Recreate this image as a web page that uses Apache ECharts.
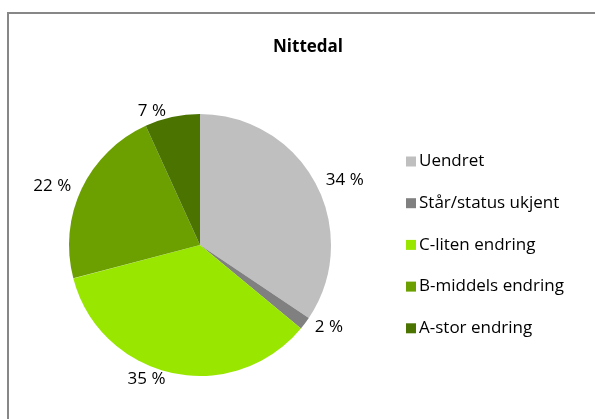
<!DOCTYPE html>
<html>
<head>
<meta charset="utf-8">
<script src="https://cdn.jsdelivr.net/npm/echarts@6/dist/echarts.min.js"></script>
<style>
html,body{margin:0;padding:0;background:#fff;overflow:hidden;}
#frame{position:absolute;left:7px;top:12px;width:620px;height:440px;border:2px solid #878787;box-sizing:border-box;}
#chart{position:absolute;left:0;top:0;width:595px;height:419px;}
</style>
</head>
<body>
<div id="frame"></div>
<div id="chart"></div>
<script>
const title = "Nittedal";
const categories = ["Uendret", "Står/status ukjent", "C-liten endring", "B-middels endring", "A-stor endring"];
const values = [34.4, 1.6, 34.9, 22.3, 6.8];
const colors = ["#BFBFBF", "#808080", "#99E600", "#6BA000", "#4A7300"];

const FONT = "'Open Sans', 'Noto Sans', sans-serif";
const chart = echarts.init(document.getElementById('chart'), null, {renderer: 'canvas'});
chart.setOption({
  animation: false,
  backgroundColor: 'transparent',
  title: {
    text: title,
    left: 303,
    textAlign: 'center',
    top: 34,
    textStyle: {fontFamily: FONT, fontSize: 17, fontWeight: 'bold', color: '#000'}
  },
  legend: {
    orient: 'vertical',
    left: 401,
    top: 148,
    itemWidth: 10,
    itemHeight: 10,
    itemGap: 24.7,
    icon: 'rect',
    textStyle: {fontFamily: FONT, fontSize: 17, color: '#000', padding: [0,0,0,-2]},
    data: categories
  },
  series: [{
    type: 'pie',
    center: [200, 245],
    radius: 131,
    startAngle: 90,
    clockwise: true,
    avoidLabelOverlap: false,
    itemStyle: {borderWidth: 0},
    label: {
      show: true,
      position: 'outside',
      fontFamily: FONT,
      fontSize: 17,
      color: '#000',
      formatter: p => Math.round(p.value) + ' %'
    },
    labelLine: {show: false, length: 6, length2: 0},
    data: categories.map((c, i) => ({name: c, value: values[i], itemStyle: {color: colors[i]}}))
  }]
});
</script>
</body>
</html>
